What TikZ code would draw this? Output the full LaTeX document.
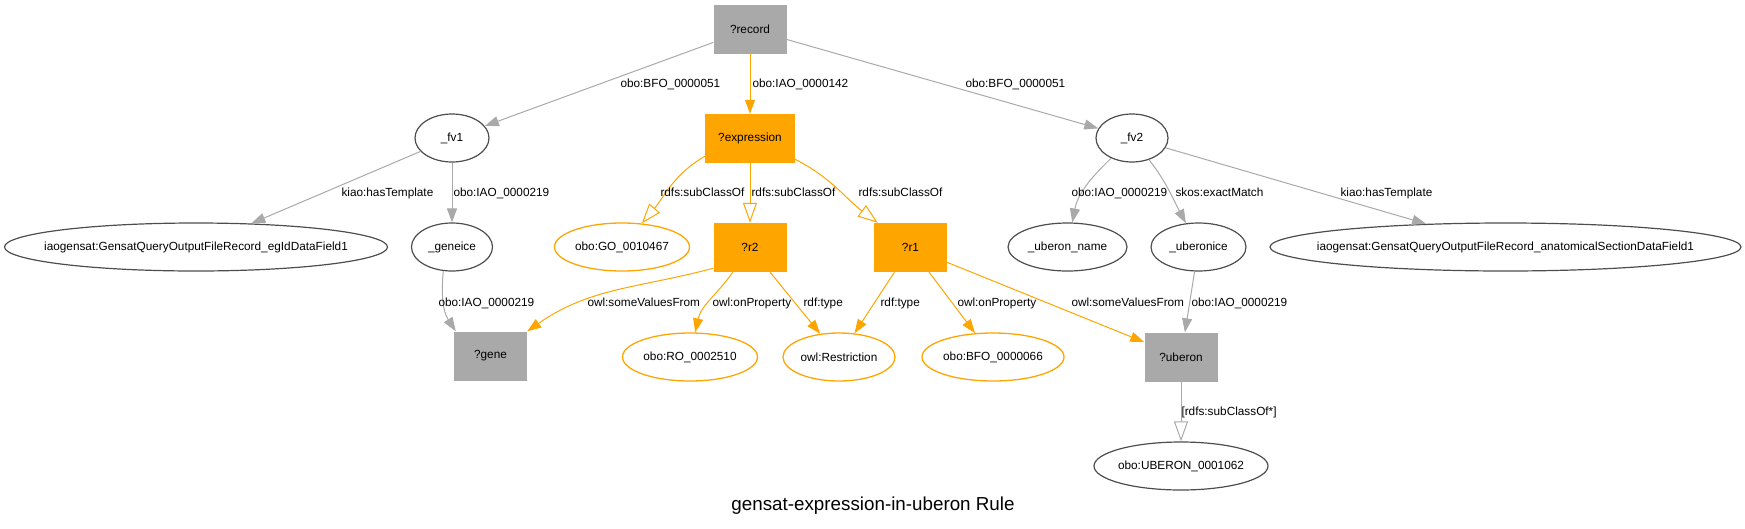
\documentclass[tikz,border=0pt]{standalone}
\usepackage{fontspec}
\setmainfont{Liberation Sans}
\usetikzlibrary{arrows.meta,shapes.geometric}

\newcommand{\lblfont}{\fontsize{11.8}{14}\selectfont}
\newcommand{\ttlfont}{\fontsize{18.8}{22}\selectfont}
\definecolor{var gray}{HTML}{A9A9A9}
\definecolor{edge gray}{HTML}{A9A9A9}
\definecolor{ell edge}{HTML}{4D4D4D}
\definecolor{rule orange}{HTML}{FFA500}
\tikzset{gbox/.style={rectangle, fill=var gray, minimum width=73pt, minimum height=49pt, inner xsep=13pt},
    obox/.style={gbox, fill=rule orange},
    gell/.style={ellipse, draw=ell edge, line width=1.2pt, minimum width=#1, minimum height=48pt,
                 inner xsep=-3pt, inner ysep=3pt},
    oell/.style={gell=#1, draw=rule orange, line width=1.3pt},
    lbl/.style={inner sep=0pt, anchor=base west},
    gedge/.style={draw=edge gray, line width=1pt, -{Triangle[length=14pt,width=10pt]}},
    oedge/.style={gedge, draw=rule orange},
    gsub/.style={gedge, -{Triangle[open,length=20pt,width=14pt]}},
    osub/.style={oedge, -{Triangle[open,length=20pt,width=14pt]}}}

\begin{document}
\begin{tikzpicture}[x=1pt, y=1pt, font=\lblfont]
    \useasboundingbox (0,0) rectangle (1745,-528);
    % variables and blank nodes
    \node[gbox] (record) at (750,-29) {?record};
    \node[obox] (expr) at (750,-138.5) {?expression};
    \node[gell=74pt] (fv1) at (452,-138) {\_fv1};
    \node[gell=72pt] (fv2) at (1132,-138) {\_fv2};
    \node[gell=383pt, inner xsep=-25pt] (tmpl1) at (196,-247) {iaogensat:GensatQueryOutputFileRecord\_egIdDataField1};
    \node[gell=81pt] (geneice) at (452,-247) {\_geneice};
    \node[oell=135pt] (go) at (622,-247) {obo:GO\_0010467};
    \node[obox] (r2) at (750,-247.5) {?r2};
    \node[obox] (r1) at (910.5,-247.5) {?r1};
    \node[gell=119pt] (uname) at (1067.5,-247) {\_uberon\_name};
    \node[gell=95pt] (uice) at (1198.5,-247) {\_uberonice};
    \node[gell=471pt, inner xsep=-25pt] (tmpl2) at (1505.5,-247) {iaogensat:GensatQueryOutputFileRecord\_anatomicalSectionDataField1};
    \node[gbox] (gene) at (490.5,-356) {?gene};
    \node[oell=135pt] (ro) at (690,-357) {obo:RO\_0002510};
    \node[oell=112pt] (restr) at (839,-357) {owl:Restriction};
    \node[oell=142pt] (bfo) at (993,-357) {obo:BFO\_0000066};
    \node[gbox] (uberon) at (1181,-357) {?uberon};
    \node[gell=174pt] (ubr) at (1181,-466) {obo:UBERON\_0001062};

    % properties
    \draw[gedge] (record) -- (fv1) node[lbl] at (620,-87) {obo:BFO\_0000051};
    \draw[oedge] (record) -- (expr) node[lbl] at (752,-87) {obo:IAO\_0000142};
    \draw[gedge] (record) -- (fv2) node[lbl] at (965,-87) {obo:BFO\_0000051};
    \draw[gedge] (fv1) -- (tmpl1) node[lbl] at (341,-196) {kiao:hasTemplate};
    \draw[gedge] (fv1) -- (geneice) node[lbl] at (453,-196) {obo:IAO\_0000219};
    \draw[osub] ([yshift=7pt]expr.south west) to[out=-150,in=50] (go) node[lbl] at (660,-196) {rdfs:subClassOf};
    \draw[osub] (expr) -- (r2) node[lbl] at (751,-196) {rdfs:subClassOf};
    \draw[osub] ([yshift=4pt]expr.south east) to[out=-27,in=143] (r1) node[lbl] at (858,-196) {rdfs:subClassOf};
    \draw[gedge] (fv2) to[out=224,in=79] (uname) node[lbl] at (1071,-196) {obo:IAO\_0000219};
    \draw[gedge] (fv2) to[out=-52,in=118] (uice) node[lbl] at (1175,-196) {skos:exactMatch};
    \draw[gedge] (fv2) -- (tmpl2) node[lbl] at (1340,-196) {kiao:hasTemplate};
    \draw[gedge] (geneice.250) to[out=-95,in=123] ([xshift=2pt]gene.north west)
        node[lbl] at (438,-306) {obo:IAO\_0000219};
    \draw[oedge] ([yshift=4pt]r2.south west) to[out=195,in=35] (gene.north east)
        node[lbl] at (587,-306) {owl:someValuesFrom};
    \draw[oedge] (r2) to[out=-125,in=78] (ro) node[lbl] at (712,-306) {owl:onProperty};
    \draw[oedge] (r2) -- (restr) node[lbl] at (803,-306) {rdf:type};
    \draw[oedge] (r1) -- (restr) node[lbl] at (880,-306) {rdf:type};
    \draw[oedge] (r1) -- (bfo) node[lbl] at (957,-306) {owl:onProperty};
    \draw[oedge] (r1) -- (uberon) node[lbl] at (1071,-306) {owl:someValuesFrom};
    \draw[gedge] (uice) -- (uberon) node[lbl] at (1191,-306) {obo:IAO\_0000219};
    \draw[gsub] (uberon) -- (ubr) node[lbl] at (1181,-415) {[rdfs:subClassOf*]};

    \node[font=\ttlfont] (title) at (873,-506) {gensat-expression-in-uberon Rule};
\end{tikzpicture}
\end{document}
